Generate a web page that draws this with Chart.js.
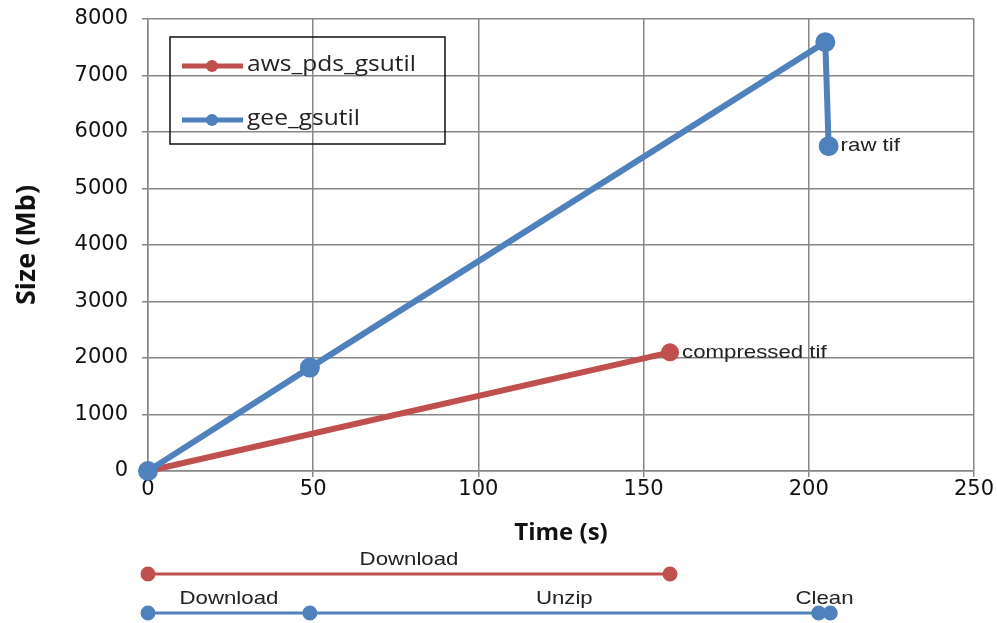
<!DOCTYPE html>
<html>
<head>
<meta charset="utf-8">
<script src="https://cdn.jsdelivr.net/npm/chart.js@4/dist/chart.umd.min.js"></script>
<style>
  html, body { margin: 0; padding: 0; background: #fff; }
  #wrap { position: relative; width: 997px; height: 623px; overflow: hidden; }
  #main { position: absolute; left: 0; top: 0; }
  #steps { position: absolute; left: 0; top: 548px; }
</style>
</head>
<body>
<div id="wrap">
  <canvas id="main" width="997" height="548"></canvas>
  <canvas id="steps" width="997" height="75"></canvas>
</div>
<script>
// ---------------- data ----------------
const seriesNames = ['aws_pds_gsutil', 'gee_gsutil'];

const awsTime = [0, 158];
const awsSize = [0, 2100];
const awsNotes = ['', 'compressed tif'];

const geeTime = [0, 49, 205, 206];
const geeSize = [0, 1830, 7590, 5750];
const geeNotes = ['', '', '', 'raw tif'];

const xTicks = [0, 50, 100, 150, 200, 250];
const yTicks = [0, 1000, 2000, 3000, 4000, 5000, 6000, 7000, 8000];

// step timelines under the chart
const awsSteps = [0, 158];
const awsStepNames = ['Download'];
const geeSteps = [0, 49, 203, 206.5];
const geeStepNames = ['Download', 'Unzip', 'Clean'];

// ---------------- styling ----------------
const RED = '#C0504D';
const BLUE = '#4F81BD';
const GRID = '#878787';
const TICK_FONT = { family: 'DejaVu Sans', size: 21 };
const NOTE_FONT = '19px "Liberation Sans", Arial, sans-serif';
const STRETCH = 1.17;   // the source picture is a bit wide

function pts(xs, ys) {
  return xs.map((x, i) => ({ x: x, y: ys[i] }));
}

// text drawn a little wider than the font, like the source
function wideText(ctx, txt, x, y, align) {
  ctx.save();
  ctx.translate(x, y);
  ctx.scale(STRETCH, 1);
  ctx.textAlign = align || 'left';
  ctx.fillText(txt, 0, 0);
  ctx.restore();
}

// point annotations + boxed legend
const notesPlugin = {
  id: 'notes',
  afterDatasetsDraw(chart) {
    const ctx = chart.ctx;
    ctx.save();
    ctx.font = NOTE_FONT;
    ctx.fillStyle = '#222';
    ctx.textBaseline = 'middle';
    chart.data.datasets.forEach((ds, di) => {
      const meta = chart.getDatasetMeta(di);
      (ds.notes || []).forEach((txt, i) => {
        if (!txt) return;
        const p = meta.data[i];
        wideText(ctx, txt, p.x + 12, p.y);
      });
    });

    // legend box
    const bx = 170, by = 37, bw = 275, bh = 107;
    ctx.strokeStyle = '#111';
    ctx.lineWidth = 1.5;
    ctx.strokeRect(bx, by, bw, bh);
    ctx.font = '21px "Open Sans"';
    chart.data.datasets.forEach((ds, di) => {
      const yy = by + 29 + di * 54;
      ctx.strokeStyle = ds.borderColor;
      ctx.lineWidth = 5;
      ctx.beginPath();
      ctx.moveTo(bx + 12, yy);
      ctx.lineTo(bx + 73, yy);
      ctx.stroke();
      ctx.fillStyle = ds.borderColor;
      ctx.beginPath();
      ctx.arc(bx + 42, yy, 6, 0, Math.PI * 2);
      ctx.fill();
      ctx.fillStyle = '#222';
      wideText(ctx, ds.label, bx + 77, yy - 1);
    });
    ctx.restore();
  }
};

new Chart(document.getElementById('main'), {
  type: 'line',
  data: {
    datasets: [
      {
        label: seriesNames[0],
        data: pts(awsTime, awsSize),
        notes: awsNotes,
        borderColor: RED,
        backgroundColor: RED,
        borderWidth: 6,
        pointRadius: 6,
        pointHoverRadius: 6,
        clip: false,
        order: 2
      },
      {
        label: seriesNames[1],
        data: pts(geeTime, geeSize),
        notes: geeNotes,
        borderColor: BLUE,
        backgroundColor: BLUE,
        borderWidth: 6,
        pointRadius: 7,
        pointHoverRadius: 7,
        clip: false,
        order: 1
      }
    ]
  },
  options: {
    responsive: false,
    animation: false,
    layout: { padding: { top: 19, right: 23, left: 0, bottom: 0 } },
    plugins: { legend: { display: false }, tooltip: { enabled: false } },
    scales: {
      x: {
        type: 'linear',
        min: xTicks[0],
        max: xTicks[xTicks.length - 1],
        afterBuildTicks: s => { s.ticks = xTicks.map(v => ({ value: v })); },
        afterFit: s => { s.height = 77; },
        ticks: { font: TICK_FONT, color: '#111', padding: 0, maxRotation: 0, callback: v => String(v) },
        grid: { color: GRID, lineWidth: 1.5, tickLength: 6 },
        border: { color: GRID, width: 1.5 },
        title: { display: true, text: 'Time (s)', font: { family: 'Open Sans', size: 24, weight: 'bold' }, color: '#111', padding: { top: 0, bottom: 0 } }
      },
      y: {
        type: 'linear',
        min: yTicks[0],
        max: yTicks[yTicks.length - 1],
        afterBuildTicks: s => { s.ticks = yTicks.map(v => ({ value: v })); },
        afterFit: s => { s.width = 148; s.paddingTop = 0; s.paddingBottom = 0; },
        ticks: { font: TICK_FONT, color: '#111', padding: 14, callback: v => String(v) },
        grid: { color: GRID, lineWidth: 1.5, tickLength: 6 },
        border: { color: GRID, width: 1.5 },
        title: { display: true, text: 'Size (Mb)', font: { family: 'Open Sans', size: 27, weight: 'bold' }, color: '#111', padding: { top: 11, bottom: 0 } }
      }
    }
  },
  plugins: [notesPlugin]
});

// step labels above each timeline segment
const stepPlugin = {
  id: 'stepNames',
  afterDatasetsDraw(chart) {
    const ctx = chart.ctx;
    ctx.save();
    ctx.font = NOTE_FONT;
    ctx.fillStyle = '#222';
    ctx.textBaseline = 'middle';
    chart.data.datasets.forEach((ds, di) => {
      const meta = chart.getDatasetMeta(di);
      ds.stepNames.forEach((name, i) => {
        const a = meta.data[i], b = meta.data[i + 1];
        wideText(ctx, name, (a.x + b.x) / 2, a.y - 14, 'center');
      });
    });
    ctx.restore();
  }
};

new Chart(document.getElementById('steps'), {
  type: 'line',
  data: {
    datasets: [
      {
        data: awsSteps.map(t => ({ x: t, y: 1 })),
        stepNames: awsStepNames,
        borderColor: RED,
        backgroundColor: RED,
        borderWidth: 3,
        pointRadius: 6,
        clip: false
      },
      {
        data: geeSteps.map(t => ({ x: t, y: 0 })),
        stepNames: geeStepNames,
        borderColor: BLUE,
        backgroundColor: BLUE,
        borderWidth: 3,
        pointRadius: 6,
        clip: false
      }
    ]
  },
  options: {
    responsive: false,
    animation: false,
    layout: { padding: { top: 26, bottom: 10, left: 148, right: 23 } },
    plugins: { legend: { display: false }, tooltip: { enabled: false } },
    scales: {
      x: { type: 'linear', display: false, min: xTicks[0], max: xTicks[xTicks.length - 1] },
      y: { type: 'linear', display: false, min: 0, max: 1 }
    }
  },
  plugins: [stepPlugin]
});
</script>
</body>
</html>
